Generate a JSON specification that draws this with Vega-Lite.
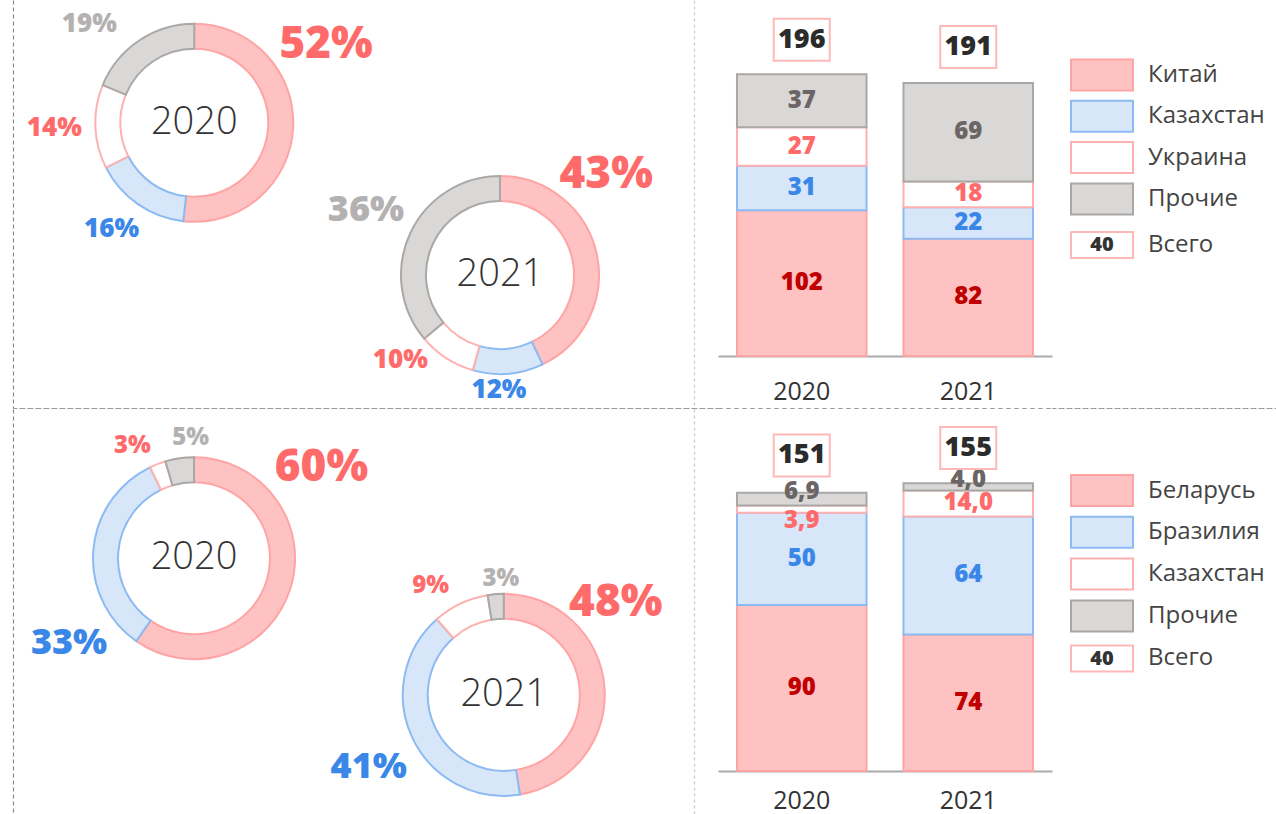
{
"$schema": "https://vega.github.io/schema/vega-lite/v6.json",
"background": "white",
"padding": {"left": 12, "top": 0, "right": 0, "bottom": 0},
"columns": 3,
"spacing": 0,
"align": "each",
"bounds": "flush",
"config": {"view": {"stroke": null}, "font": "Open Sans", "text": {"font": "Open Sans"}},
"datasets": {
 "top": [
  {"year":"2020","k":1,"cat":"Китай","v":102,"lab":"102","pct":"52%"},
  {"year":"2020","k":2,"cat":"Казахстан","v":31,"lab":"31","pct":"16%"},
  {"year":"2020","k":3,"cat":"Украина","v":27,"lab":"27","pct":"14%"},
  {"year":"2020","k":4,"cat":"Прочие","v":37,"lab":"37","pct":"19%"},
  {"year":"2021","k":1,"cat":"Китай","v":82,"lab":"82","pct":"43%"},
  {"year":"2021","k":2,"cat":"Казахстан","v":22,"lab":"22","pct":"12%"},
  {"year":"2021","k":3,"cat":"Украина","v":18,"lab":"18","pct":"10%"},
  {"year":"2021","k":4,"cat":"Прочие","v":69,"lab":"69","pct":"36%"}
 ],
 "bot": [
  {"year":"2020","k":1,"cat":"Беларусь","v":90,"lab":"90","pct":"60%"},
  {"year":"2020","k":2,"cat":"Бразилия","v":50,"lab":"50","pct":"33%"},
  {"year":"2020","k":3,"cat":"Казахстан","v":3.9,"lab":"3,9","pct":"3%"},
  {"year":"2020","k":4,"cat":"Прочие","v":6.9,"lab":"6,9","pct":"5%"},
  {"year":"2021","k":1,"cat":"Беларусь","v":74,"lab":"74","pct":"48%"},
  {"year":"2021","k":2,"cat":"Бразилия","v":64,"lab":"64","pct":"41%"},
  {"year":"2021","k":3,"cat":"Казахстан","v":14,"lab":"14,0","pct":"9%"},
  {"year":"2021","k":4,"cat":"Прочие","v":4,"lab":"4,0","pct":"3%"}
 ],
 "totTop": [{"year":"2020","total":196},{"year":"2021","total":191}],
 "totBot": [{"year":"2020","total":151},{"year":"2021","total":155}],
 "legTop": [{"item":"Китай","k":1},{"item":"Казахстан","k":2},{"item":"Украина","k":3},{"item":"Прочие","k":4},{"item":"Всего","k":5,"sample":"40"}],
 "legBot": [{"item":"Беларусь","k":1},{"item":"Бразилия","k":2},{"item":"Казахстан","k":3},{"item":"Прочие","k":4},{"item":"Всего","k":5,"sample":"40"}]
},
"resolve": {"scale": {"color": "independent", "fill": "independent", "stroke": "independent", "theta": "independent"}},
"concat": [
 {
  "width": 705, "height": 408,
  "data": {"name": "top"},
  "encoding": {
   "x": {"field":"year","type":"nominal","axis":null,"scale":{"type":"point","domain":["2020","2021"],"padding":0.653,"align":0.454}},
   "y": {"field":"year","type":"nominal","axis":null,"scale":{"type":"point","domain":["2020","2021"],"padding":0.84,"align":0.48}}
  },
  "resolve": {"axis": {"y": "independent"}},
  "layer": [
   {"transform":[{"filter":"datum.year=='2020'"}],
    "mark":{"type":"arc","outerRadius":99,"innerRadius":74,"strokeWidth":2},
    "encoding":{
     "y":{"field":"year","type":"nominal","scale":{"type":"point","domain":["2020","2021"],"padding":0.84,"align":0.48},"axis":{"orient":"left","domainDash":[4,3],"domainColor":"#8a8a8a","domainWidth":1.2,"labels":false,"ticks":false,"title":null,"grid":false}},
     "theta":{"field":"v","type":"quantitative","stack":"normalize"},
     "order":{"field":"k","type":"quantitative"},
     "fill":{"field":"k","type":"nominal","scale":{"domain":[1,2,3,4],"range":["#ffc2c2","#d7e7f9","#ffffff","#d9d8d7"]},"legend":null},
     "stroke":{"field":"k","type":"nominal","scale":{"domain":[1,2,3,4],"range":["#ffa4a4","#8cbaf2","#ffb0b0","#aaa8a7"]},"legend":null}
    }},
   {"transform":[{"filter":"datum.year=='2021'"}],
    "mark":{"type":"arc","outerRadius":99,"innerRadius":74,"strokeWidth":2},
    "encoding":{
     "y":{"field":"year","type":"nominal","scale":{"type":"point","domain":["2020","2021"],"padding":0.84,"align":0.48},"axis":{"orient":"right","offset":-24,"domainDash":[3,3],"domainColor":"#c8c8c8","domainWidth":1.2,"labels":false,"ticks":false,"title":null,"grid":false}},
     "theta":{"field":"v","type":"quantitative","stack":"normalize"},
     "order":{"field":"k","type":"quantitative"},
     "fill":{"field":"k","type":"nominal","scale":{"domain":[1,2,3,4],"range":["#ffc2c2","#d7e7f9","#ffffff","#d9d8d7"]},"legend":null},
     "stroke":{"field":"k","type":"nominal","scale":{"domain":[1,2,3,4],"range":["#ffa4a4","#8cbaf2","#ffb0b0","#aaa8a7"]},"legend":null}
    }},
   {"transform":[{"filter":"datum.k==1"}],
    "mark":{"type":"text","fontSize":38,"fontWeight":300,"color":"#333333"},
    "encoding":{"text":{"field":"year","type":"nominal"}}},
   {"transform":[{"filter":"datum.year=='2020'"}],"mark":{"type":"text","radius":153,"fontWeight":800},
    "encoding":{"theta":{"field":"v","type":"quantitative","stack":"normalize","bandPosition":0.319},"order":{"field":"k","type":"quantitative"},
     "text":{"condition":{"test":"datum.k!=1","value":""},"field":"pct","type":"nominal"},
     "size":{"condition":{"test":"datum.k!=1","value":0},"value":44},
     "color":{"field":"k","type":"nominal","scale":{"domain":[1,2,3,4],"range":["#ff6b6b","#3b87e8","#ff6b6b","#b4b2b1"]},"legend":null}}},
   {"transform":[{"filter":"datum.year=='2020'"}],"mark":{"type":"text","radius":135,"fontWeight":800},
    "encoding":{"theta":{"field":"v","type":"quantitative","stack":"normalize","bandPosition":0.554},"order":{"field":"k","type":"quantitative"},
     "text":{"condition":{"test":"datum.k!=2","value":""},"field":"pct","type":"nominal"},
     "size":{"condition":{"test":"datum.k!=2","value":0},"value":26},
     "color":{"field":"k","type":"nominal","scale":{"domain":[1,2,3,4],"range":["#ff6b6b","#3b87e8","#ff6b6b","#b4b2b1"]},"legend":null}}},
   {"transform":[{"filter":"datum.year=='2020'"}],"mark":{"type":"text","radius":140,"fontWeight":800},
    "encoding":{"theta":{"field":"v","type":"quantitative","stack":"normalize","bandPosition":0.5},"order":{"field":"k","type":"quantitative"},
     "text":{"condition":{"test":"datum.k!=3","value":""},"field":"pct","type":"nominal"},
     "size":{"condition":{"test":"datum.k!=3","value":0},"value":26},
     "color":{"field":"k","type":"nominal","scale":{"domain":[1,2,3,4],"range":["#ff6b6b","#3b87e8","#ff6b6b","#b4b2b1"]},"legend":null}}},
   {"transform":[{"filter":"datum.year=='2020'"}],"mark":{"type":"text","radius":144,"fontWeight":800},
    "encoding":{"theta":{"field":"v","type":"quantitative","stack":"normalize","bandPosition":0.309},"order":{"field":"k","type":"quantitative"},
     "text":{"condition":{"test":"datum.k!=4","value":""},"field":"pct","type":"nominal"},
     "size":{"condition":{"test":"datum.k!=4","value":0},"value":26},
     "color":{"field":"k","type":"nominal","scale":{"domain":[1,2,3,4],"range":["#ff6b6b","#3b87e8","#ff6b6b","#b4b2b1"]},"legend":null}}},
   {"transform":[{"filter":"datum.year=='2021'"}],"mark":{"type":"text","radius":146,"fontWeight":800},
    "encoding":{"theta":{"field":"v","type":"quantitative","stack":"normalize","bandPosition":0.302},"order":{"field":"k","type":"quantitative"},
     "text":{"condition":{"test":"datum.k!=1","value":""},"field":"pct","type":"nominal"},
     "size":{"condition":{"test":"datum.k!=1","value":0},"value":44},
     "color":{"field":"k","type":"nominal","scale":{"domain":[1,2,3,4],"range":["#ff6b6b","#3b87e8","#ff6b6b","#b4b2b1"]},"legend":null}}},
   {"transform":[{"filter":"datum.year=='2021'"}],"mark":{"type":"text","radius":115,"fontWeight":800},
    "encoding":{"theta":{"field":"v","type":"quantitative","stack":"normalize","bandPosition":0.626},"order":{"field":"k","type":"quantitative"},
     "text":{"condition":{"test":"datum.k!=2","value":""},"field":"pct","type":"nominal"},
     "size":{"condition":{"test":"datum.k!=2","value":0},"value":26},
     "color":{"field":"k","type":"nominal","scale":{"domain":[1,2,3,4],"range":["#ff6b6b","#3b87e8","#ff6b6b","#b4b2b1"]},"legend":null}}},
   {"transform":[{"filter":"datum.year=='2021'"}],"mark":{"type":"text","radius":131,"fontWeight":800},
    "encoding":{"theta":{"field":"v","type":"quantitative","stack":"normalize","bandPosition":0.99},"order":{"field":"k","type":"quantitative"},
     "text":{"condition":{"test":"datum.k!=3","value":""},"field":"pct","type":"nominal"},
     "size":{"condition":{"test":"datum.k!=3","value":0},"value":26},
     "color":{"field":"k","type":"nominal","scale":{"domain":[1,2,3,4],"range":["#ff6b6b","#3b87e8","#ff6b6b","#b4b2b1"]},"legend":null}}},
   {"transform":[{"filter":"datum.year=='2021'"}],"mark":{"type":"text","radius":149,"fontWeight":800},
    "encoding":{"theta":{"field":"v","type":"quantitative","stack":"normalize","bandPosition":0.507},"order":{"field":"k","type":"quantitative"},
     "text":{"condition":{"test":"datum.k!=4","value":""},"field":"pct","type":"nominal"},
     "size":{"condition":{"test":"datum.k!=4","value":0},"value":36},
     "color":{"field":"k","type":"nominal","scale":{"domain":[1,2,3,4],"range":["#ff6b6b","#3b87e8","#ff6b6b","#b4b2b1"]},"legend":null}}}
  ]
 },
 {
  "width": 334, "height": 356,
  "encoding": {
   "x": {"field":"year","type":"nominal","scale":{"paddingInner":0.222,"paddingOuter":0.114},"axis":{"title":null,"labelAngle":0,"labelFontSize":25,"labelColor":"#333333","labelFont":"Open Sans","ticks":false,"labelPadding":23,"domainColor":"#aaaaaa","domainWidth":2,"grid":false}}
  },
  "layer": [
   {"data":{"name":"top"},"mark":{"type":"bar","strokeWidth":2},
    "encoding":{"y":{"field":"v","type":"quantitative","stack":true,"scale":{"domain":[0,249]},"axis":null},
     "order":{"field":"k","type":"quantitative"},
     "fill":{"field":"k","type":"nominal","scale":{"domain":[1,2,3,4],"range":["#ffc2c2","#d7e7f9","#ffffff","#d9d8d7"]},"legend":null},
     "stroke":{"field":"k","type":"nominal","scale":{"domain":[1,2,3,4],"range":["#ffa4a4","#8cbaf2","#ffb0b0","#aaa8a7"]},"legend":null}}},
   {"data":{"name":"top"},"mark":{"type":"text","fontSize":24,"fontWeight":800,"baseline":"middle"},
    "encoding":{"y":{"field":"v","type":"quantitative","stack":true,"bandPosition":0.5,"scale":{"domain":[0,249]},"axis":null},
     "order":{"field":"k","type":"quantitative"},
     "text":{"field":"lab","type":"nominal"},
     "color":{"field":"k","type":"nominal","scale":{"domain":[1,2,3,4],"range":["#c00000","#3b87e8","#ff6b6b","#6b6565"]},"legend":null}}},
   {"data":{"name":"totTop"},"mark":{"type":"point","shape":"M-1,-0.75H1V0.75H-1Z","size":3136,"filled":true,"opacity":1,"fill":"#ffffff","stroke":"#ffb8b8","strokeWidth":2,"yOffset":-36},
    "encoding":{"y":{"field":"total","type":"quantitative","scale":{"domain":[0,249]},"axis":null}}},
   {"data":{"name":"totTop"},"mark":{"type":"text","fontSize":27,"fontWeight":800,"color":"#2b2b2b","yOffset":-36,"baseline":"middle"},
    "encoding":{"y":{"field":"total","type":"quantitative","scale":{"domain":[0,249]},"axis":null},"text":{"field":"total","type":"quantitative"}}}
  ]
 },
 {
  "width": 100, "height": 247.8,
  "data": {"name": "legTop"},
  "encoding": {"y": {"field":"item","type":"nominal","axis":null,"scale":{"type":"point","domain":["Китай","Казахстан","Украина","Прочие","Всего"],"padding":1}}},
  "layer": [
   {"transform":[{"filter":"datum.k<5"}],"mark":{"type":"point","shape":"M-1,-0.5H1V0.5H-1Z","size":3844,"filled":true,"opacity":1,"strokeWidth":2,"yOffset":33.7},
    "encoding":{"fill":{"field":"k","type":"nominal","scale":{"domain":[1,2,3,4],"range":["#ffc2c2","#d7e7f9","#ffffff","#d9d8d7"]},"legend":null},
     "stroke":{"field":"k","type":"nominal","scale":{"domain":[1,2,3,4],"range":["#ffa4a4","#8cbaf2","#ffb0b0","#aaa8a7"]},"legend":null}}},
   {"transform":[{"filter":"datum.k==5"}],"mark":{"type":"point","shape":"M-1,-0.42H1V0.42H-1Z","size":3844,"filled":true,"opacity":1,"fill":"#ffffff","stroke":"#ffb8b8","strokeWidth":2,"yOffset":38.5}},
   {"transform":[{"filter":"datum.k==5"}],"mark":{"type":"text","fontSize":20,"fontWeight":800,"color":"#333333","baseline":"middle","yOffset":38.5},"encoding":{"text":{"field":"sample","type":"nominal"}}},
   {"transform":[{"filter":"datum.k<5"}],"mark":{"type":"text","align":"left","dx":46,"fontSize":24,"color":"#444444","baseline":"middle","yOffset":33.7},"encoding":{"text":{"field":"item","type":"nominal"}}},
   {"transform":[{"filter":"datum.k==5"}],"mark":{"type":"text","align":"left","dx":46,"fontSize":24,"color":"#444444","baseline":"middle","yOffset":38.5},"encoding":{"text":{"field":"item","type":"nominal"}}}
  ]
 },
 {"width": 705, "height": 0.01, "data": {"values": [{}]}, "mark": {"type": "text", "text": ""}, "encoding": {}, "view": {"stroke": "#999999", "strokeDash": [4, 4], "strokeWidth": 1}},
 {"width": 334, "height": 0.01, "data": {"values": [{}]}, "mark": {"type": "text", "text": ""}, "encoding": {}, "view": {"stroke": "#999999", "strokeDash": [4, 4], "strokeWidth": 1}},
 {"width": 225, "height": 0.01, "data": {"values": [{}]}, "mark": {"type": "text", "text": ""}, "encoding": {}, "view": {"stroke": "#999999", "strokeDash": [4, 4], "strokeWidth": 1}},
 {
  "width": 705, "height": 406,
  "data": {"name": "bot"},
  "encoding": {
   "x": {"field":"year","type":"nominal","axis":null,"scale":{"type":"point","domain":["2020","2021"],"padding":0.638,"align":0.458}},
   "y": {"field":"year","type":"nominal","axis":null,"scale":{"type":"point","domain":["2020","2021"],"padding":0.986,"align":0.554}}
  },
  "resolve": {"axis": {"y": "independent"}},
  "layer": [
   {"transform":[{"filter":"datum.year=='2020'"}],
    "mark":{"type":"arc","outerRadius":101,"innerRadius":76,"strokeWidth":2},
    "encoding":{
     "y":{"field":"year","type":"nominal","scale":{"type":"point","domain":["2020","2021"],"padding":0.986,"align":0.554},"axis":{"orient":"left","domainDash":[4,3],"domainColor":"#8a8a8a","domainWidth":1.2,"labels":false,"ticks":false,"title":null,"grid":false}},
     "theta":{"field":"v","type":"quantitative","stack":"normalize"},
     "order":{"field":"k","type":"quantitative"},
     "fill":{"field":"k","type":"nominal","scale":{"domain":[1,2,3,4],"range":["#ffc2c2","#d7e7f9","#ffffff","#d9d8d7"]},"legend":null},
     "stroke":{"field":"k","type":"nominal","scale":{"domain":[1,2,3,4],"range":["#ffa4a4","#8cbaf2","#ffb0b0","#aaa8a7"]},"legend":null}
    }},
   {"transform":[{"filter":"datum.year=='2021'"}],
    "mark":{"type":"arc","outerRadius":101,"innerRadius":76,"strokeWidth":2},
    "encoding":{
     "y":{"field":"year","type":"nominal","scale":{"type":"point","domain":["2020","2021"],"padding":0.986,"align":0.554},"axis":{"orient":"right","offset":-24,"domainDash":[3,3],"domainColor":"#c8c8c8","domainWidth":1.2,"labels":false,"ticks":false,"title":null,"grid":false}},
     "theta":{"field":"v","type":"quantitative","stack":"normalize"},
     "order":{"field":"k","type":"quantitative"},
     "fill":{"field":"k","type":"nominal","scale":{"domain":[1,2,3,4],"range":["#ffc2c2","#d7e7f9","#ffffff","#d9d8d7"]},"legend":null},
     "stroke":{"field":"k","type":"nominal","scale":{"domain":[1,2,3,4],"range":["#ffa4a4","#8cbaf2","#ffb0b0","#aaa8a7"]},"legend":null}
    }},
   {"transform":[{"filter":"datum.k==1"}],
    "mark":{"type":"text","fontSize":38,"fontWeight":300,"color":"#333333"},
    "encoding":{"text":{"field":"year","type":"nominal"}}},
   {"transform":[{"filter":"datum.year=='2020'"}],"mark":{"type":"text","radius":156,"fontWeight":800},
    "encoding":{"theta":{"field":"v","type":"quantitative","stack":"normalize","bandPosition":0.255},"order":{"field":"k","type":"quantitative"},
     "text":{"condition":{"test":"datum.k!=1","value":""},"field":"pct","type":"nominal"},
     "size":{"condition":{"test":"datum.k!=1","value":0},"value":44},
     "color":{"field":"k","type":"nominal","scale":{"domain":[1,2,3,4],"range":["#ff6b6b","#3b87e8","#ff6b6b","#b4b2b1"]},"legend":null}}},
   {"transform":[{"filter":"datum.year=='2020'"}],"mark":{"type":"text","radius":151,"fontWeight":800},
    "encoding":{"theta":{"field":"v","type":"quantitative","stack":"normalize","bandPosition":0.176},"order":{"field":"k","type":"quantitative"},
     "text":{"condition":{"test":"datum.k!=2","value":""},"field":"pct","type":"nominal"},
     "size":{"condition":{"test":"datum.k!=2","value":0},"value":36},
     "color":{"field":"k","type":"nominal","scale":{"domain":[1,2,3,4],"range":["#ff6b6b","#3b87e8","#ff6b6b","#b4b2b1"]},"legend":null}}},
   {"transform":[{"filter":"datum.year=='2020'"}],"mark":{"type":"text","radius":120,"fontWeight":800,"align":"right"},
    "encoding":{"theta":{"field":"v","type":"quantitative","stack":"normalize","bandPosition":0.5},"order":{"field":"k","type":"quantitative"},
     "text":{"condition":{"test":"datum.k!=3","value":""},"field":"pct","type":"nominal"},
     "size":{"condition":{"test":"datum.k!=3","value":0},"value":24},
     "color":{"field":"k","type":"nominal","scale":{"domain":[1,2,3,4],"range":["#ff6b6b","#3b87e8","#ff6b6b","#b4b2b1"]},"legend":null}}},
   {"transform":[{"filter":"datum.year=='2020'"}],"mark":{"type":"text","radius":120,"fontWeight":800},
    "encoding":{"theta":{"field":"v","type":"quantitative","stack":"normalize","bandPosition":0.9},"order":{"field":"k","type":"quantitative"},
     "text":{"condition":{"test":"datum.k!=4","value":""},"field":"pct","type":"nominal"},
     "size":{"condition":{"test":"datum.k!=4","value":0},"value":24},
     "color":{"field":"k","type":"nominal","scale":{"domain":[1,2,3,4],"range":["#ff6b6b","#3b87e8","#ff6b6b","#b4b2b1"]},"legend":null}}},
   {"transform":[{"filter":"datum.year=='2021'"}],"mark":{"type":"text","radius":145,"fontWeight":800},
    "encoding":{"theta":{"field":"v","type":"quantitative","stack":"normalize","bandPosition":0.296},"order":{"field":"k","type":"quantitative"},
     "text":{"condition":{"test":"datum.k!=1","value":""},"field":"pct","type":"nominal"},
     "size":{"condition":{"test":"datum.k!=1","value":0},"value":44},
     "color":{"field":"k","type":"nominal","scale":{"domain":[1,2,3,4],"range":["#ff6b6b","#3b87e8","#ff6b6b","#b4b2b1"]},"legend":null}}},
   {"transform":[{"filter":"datum.year=='2021'"}],"mark":{"type":"text","radius":153,"fontWeight":800},
    "encoding":{"theta":{"field":"v","type":"quantitative","stack":"normalize","bandPosition":0.482},"order":{"field":"k","type":"quantitative"},
     "text":{"condition":{"test":"datum.k!=2","value":""},"field":"pct","type":"nominal"},
     "size":{"condition":{"test":"datum.k!=2","value":0},"value":36},
     "color":{"field":"k","type":"nominal","scale":{"domain":[1,2,3,4],"range":["#ff6b6b","#3b87e8","#ff6b6b","#b4b2b1"]},"legend":null}}},
   {"transform":[{"filter":"datum.year=='2021'"}],"mark":{"type":"text","radius":131,"fontWeight":800},
    "encoding":{"theta":{"field":"v","type":"quantitative","stack":"normalize","bandPosition":0.234},"order":{"field":"k","type":"quantitative"},
     "text":{"condition":{"test":"datum.k!=3","value":""},"field":"pct","type":"nominal"},
     "size":{"condition":{"test":"datum.k!=3","value":0},"value":24},
     "color":{"field":"k","type":"nominal","scale":{"domain":[1,2,3,4],"range":["#ff6b6b","#3b87e8","#ff6b6b","#b4b2b1"]},"legend":null}}},
   {"transform":[{"filter":"datum.year=='2021'"}],"mark":{"type":"text","radius":116,"fontWeight":800},
    "encoding":{"theta":{"field":"v","type":"quantitative","stack":"normalize","bandPosition":0.84},"order":{"field":"k","type":"quantitative"},
     "text":{"condition":{"test":"datum.k!=4","value":""},"field":"pct","type":"nominal"},
     "size":{"condition":{"test":"datum.k!=4","value":0},"value":24},
     "color":{"field":"k","type":"nominal","scale":{"domain":[1,2,3,4],"range":["#ff6b6b","#3b87e8","#ff6b6b","#b4b2b1"]},"legend":null}}}
  ]
 },
 {
  "width": 334, "height": 362,
  "encoding": {
   "x": {"field":"year","type":"nominal","scale":{"paddingInner":0.222,"paddingOuter":0.114},"axis":{"title":null,"labelAngle":0,"labelFontSize":25,"labelColor":"#333333","labelFont":"Open Sans","ticks":false,"labelPadding":17,"domainColor":"#aaaaaa","domainWidth":2,"grid":false}}
  },
  "layer": [
   {"data":{"name":"bot"},"mark":{"type":"bar","strokeWidth":2},
    "encoding":{"y":{"field":"v","type":"quantitative","stack":true,"scale":{"domain":[0,196.2]},"axis":null},
     "order":{"field":"k","type":"quantitative"},
     "fill":{"field":"k","type":"nominal","scale":{"domain":[1,2,3,4],"range":["#ffc2c2","#d7e7f9","#ffffff","#d9d8d7"]},"legend":null},
     "stroke":{"field":"k","type":"nominal","scale":{"domain":[1,2,3,4],"range":["#ffa4a4","#8cbaf2","#ffb0b0","#aaa8a7"]},"legend":null}}},
   {"data":{"name":"bot"},"mark":{"type":"text","fontSize":24,"fontWeight":800,"baseline":"middle"},
    "encoding":{"y":{"field":"v","type":"quantitative","stack":true,"bandPosition":0.5,"scale":{"domain":[0,196.2]},"axis":null},
     "order":{"field":"k","type":"quantitative"},
     "text":{"condition":{"test":"datum.v<10","value":""},"field":"lab","type":"nominal"},
     "color":{"field":"k","type":"nominal","scale":{"domain":[1,2,3,4],"range":["#c00000","#3b87e8","#ff6b6b","#6b6565"]},"legend":null}}},
   {"data":{"name":"bot"},"mark":{"type":"text","fontSize":24,"fontWeight":800,"baseline":"alphabetic"},
    "encoding":{"y":{"field":"v","type":"quantitative","stack":true,"bandPosition":0.5,"scale":{"domain":[0,196.2]},"axis":null},
     "order":{"field":"k","type":"quantitative"},
     "text":{"condition":{"test":"!(datum.v<10 && datum.k==4)","value":""},"field":"lab","type":"nominal"},
     "color":{"field":"k","type":"nominal","scale":{"domain":[1,2,3,4],"range":["#c00000","#3b87e8","#ff6b6b","#6b6565"]},"legend":null}}},
   {"data":{"name":"bot"},"mark":{"type":"text","fontSize":24,"fontWeight":800,"baseline":"top"},
    "encoding":{"y":{"field":"v","type":"quantitative","stack":true,"bandPosition":0.5,"scale":{"domain":[0,196.2]},"axis":null},
     "order":{"field":"k","type":"quantitative"},
     "text":{"condition":{"test":"!(datum.v<10 && datum.k==3)","value":""},"field":"lab","type":"nominal"},
     "color":{"field":"k","type":"nominal","scale":{"domain":[1,2,3,4],"range":["#c00000","#3b87e8","#ff6b6b","#6b6565"]},"legend":null}}},
   {"data":{"name":"totBot"},"mark":{"type":"point","shape":"M-1,-0.75H1V0.75H-1Z","size":3136,"filled":true,"opacity":1,"fill":"#ffffff","stroke":"#ffb8b8","strokeWidth":2,"yOffset":-37},
    "encoding":{"y":{"field":"total","type":"quantitative","scale":{"domain":[0,196.2]},"axis":null}}},
   {"data":{"name":"totBot"},"mark":{"type":"text","fontSize":27,"fontWeight":800,"color":"#2b2b2b","yOffset":-37,"baseline":"middle"},
    "encoding":{"y":{"field":"total","type":"quantitative","scale":{"domain":[0,196.2]},"axis":null},"text":{"field":"total","type":"quantitative"}}}
  ]
 },
 {
  "width": 100, "height": 250.8,
  "data": {"name": "legBot"},
  "encoding": {"y": {"field":"item","type":"nominal","axis":null,"scale":{"type":"point","domain":["Беларусь","Бразилия","Казахстан","Прочие","Всего"],"padding":1}}},
  "layer": [
   {"transform":[{"filter":"datum.k<5"}],"mark":{"type":"point","shape":"M-1,-0.5H1V0.5H-1Z","size":3844,"filled":true,"opacity":1,"strokeWidth":2,"yOffset":39.7},
    "encoding":{"fill":{"field":"k","type":"nominal","scale":{"domain":[1,2,3,4],"range":["#ffc2c2","#d7e7f9","#ffffff","#d9d8d7"]},"legend":null},
     "stroke":{"field":"k","type":"nominal","scale":{"domain":[1,2,3,4],"range":["#ffa4a4","#8cbaf2","#ffb0b0","#aaa8a7"]},"legend":null}}},
   {"transform":[{"filter":"datum.k==5"}],"mark":{"type":"point","shape":"M-1,-0.42H1V0.42H-1Z","size":3844,"filled":true,"opacity":1,"fill":"#ffffff","stroke":"#ffb8b8","strokeWidth":2,"yOffset":40.5}},
   {"transform":[{"filter":"datum.k==5"}],"mark":{"type":"text","fontSize":20,"fontWeight":800,"color":"#333333","baseline":"middle","yOffset":40.5},"encoding":{"text":{"field":"sample","type":"nominal"}}},
   {"mark":{"type":"text","align":"left","dx":46,"fontSize":24,"color":"#444444","baseline":"middle","yOffset":39.7},"encoding":{"text":{"field":"item","type":"nominal"}}}
  ]
 }
]
}
